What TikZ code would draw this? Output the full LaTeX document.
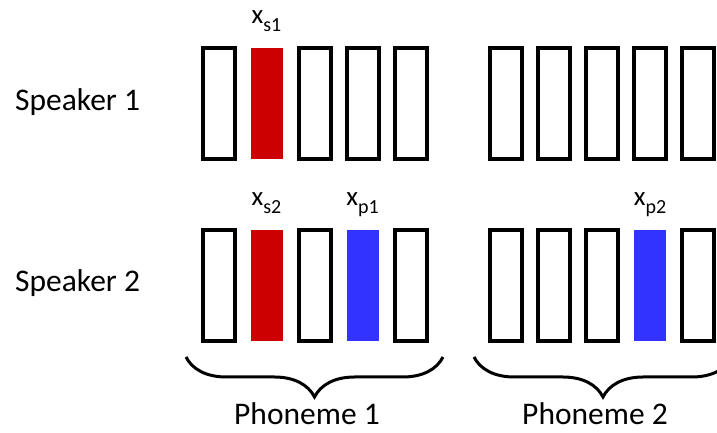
\documentclass[tikz,border=0pt]{standalone}
\usepackage{fontspec}
\setmainfont{Carlito}
\usepackage{tikz}
\usetikzlibrary{positioning, decorations.pathreplacing}
\definecolor{spkred}{RGB}{204,0,0}
\definecolor{phnblue}{RGB}{51,51,255}
\newcommand{\xlab}[1]{x\raisebox{-7.5pt}{\fontsize{20}{20}\selectfont #1}}

\begin{document}
\begin{tikzpicture}[x=1pt,y=1pt,node distance=48pt,
                frame/.style={draw,line width=4pt,minimum width=32pt,minimum height=111pt,inner sep=0pt,outer sep=0pt},
                spk/.style={fill=spkred,minimum width=32pt,minimum height=111pt,inner sep=0pt,outer sep=0pt},
                phn/.style={fill=phnblue,minimum width=32pt,minimum height=111pt,inner sep=0pt,outer sep=0pt},
                lab/.style={anchor=base,inner sep=0pt,font=\fontsize{27}{27}\selectfont},
                txt/.style={anchor=base,inner sep=0pt,font=\fontsize{31.5}{36}\selectfont},
                phbrace/.style={decorate,decoration={brace,amplitude=40pt,mirror},line width=3pt}]
                \useasboundingbox (0,0) rectangle (717,433);

                % Speaker 1
                \node[frame] (u1) at (218.5,329.5) {};
                \node[spk]   (u2) [right of=u1] {};
                \node[frame] (u3) [right of=u2] {};
                \node[frame] (u4) [right of=u3] {};
                \node[frame] (u5) [right of=u4] {};
                \node[frame] (u6) [node distance=95.5pt,right of=u5] {};
                \node[frame] (u7) [right of=u6] {};
                \node[frame] (u8) [right of=u7] {};
                \node[frame] (u9) [right of=u8] {};
                \node[frame] (u10) [right of=u9] {};

                % Speaker 2
                \node[frame] (d1) [node distance=182pt,below of=u1] {};
                \node[spk]   (d2) [right of=d1] {};
                \node[frame] (d3) [right of=d2] {};
                \node[phn]   (d4) [right of=d3] {};
                \node[frame] (d5) [right of=d4] {};
                \node[frame] (d6) [node distance=95.5pt,right of=d5] {};
                \node[frame] (d7) [right of=d6] {};
                \node[frame] (d8) [right of=d7] {};
                \node[phn]   (d9) [right of=d8] {};
                \node[frame] (d10) [right of=d9] {};

                % Labels
                \node[lab] (ls1) at ([yshift=24pt]u2.north) {\xlab{s1}};
                \node[lab] (ls2) at ([yshift=24pt]d2.north) {\xlab{s2}};
                \node[lab] (lp1) at ([yshift=24pt]d4.north) {\xlab{p1}};
                \node[lab] (lp2) at ([yshift=24pt]d9.north) {\xlab{p2}};

                \node[txt,anchor=base west] (sp1) at (15,322) {Speaker 1};
                \node[txt,anchor=base west] (sp2) at (15,141) {Speaker 2};

                % Braces
                \coordinate (b1l) at (186,76);
                \coordinate (b1r) at (443,76);
                \coordinate (b2l) at (474,76);
                \coordinate (b2r) at (732,76);
                \draw[phbrace] (b1l) -- (b1r);
                \draw[phbrace] (b2l) -- (b2r);

                \node[txt] (ph1) at (307,8) {Phoneme 1};
                \node[txt] (ph2) at (595,8) {Phoneme 2};

            \end{tikzpicture}
\end{document}
